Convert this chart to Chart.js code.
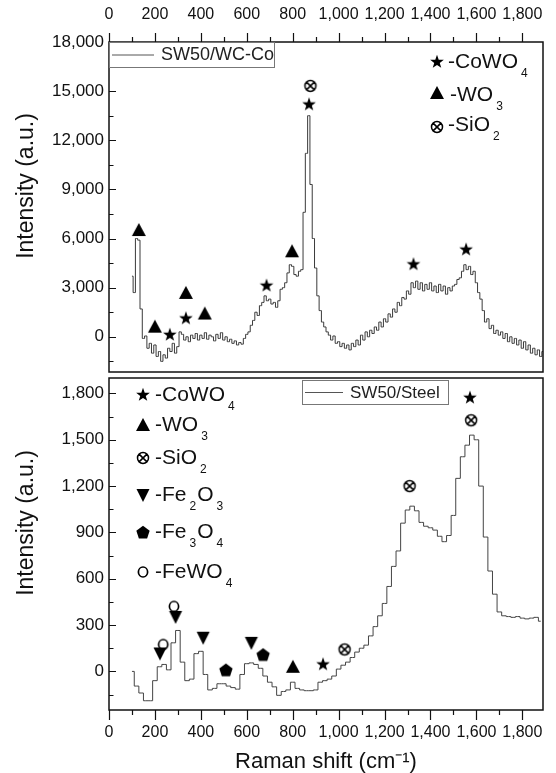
<!DOCTYPE html>
<html>
<head>
<meta charset="utf-8">
<script src="https://cdn.jsdelivr.net/npm/chart.js@4.4.0/dist/chart.umd.min.js"></script>
<style>
  body { margin: 0; background: #fff; width: 556px; height: 773px; overflow: hidden; position: relative; }
  canvas { position: absolute; left: 0; }
  #topChart { top: 0; }
  #bottomChart { top: 370px; }
</style>
</head>
<body>
<canvas id="topChart" width="556" height="379"></canvas>
<canvas id="bottomChart" width="556" height="403"></canvas>
<script>
// Raman shift grid: top spectrum sampled every 10 cm-1, bottom every 20 cm-1
const topStart = 100, topStep = 10;
const bottomStart = 100, bottomStep = 20;

// SW50/WC-Co intensity, 100 ... 1890 cm-1
const topIntensity = [
  3700, 2700, 6000, 5900, 1700, -100, 50, -700, -400, -1000,
  -500, -1200, -900, -1500, -1100, -1300, -700, -900, -400, -1000,
  -600, 300, 150, -200, 0, -300, 100, -100, 200, -200,
  100, -100, 250, -150, 100, 0, -250, 150, -100, 250,
  -200, 0, -300, -150, -400, -250, -500, -350, -450, -100,
  150, 300, 700, 1000, 1500, 1300, 1900, 2100, 2500, 2200,
  2300, 2000, 2100, 1800, 2200, 2900, 3000, 3300, 3900, 4400,
  4300, 3800, 3700, 4000, 4100, 7600, 11200, 13500, 9300, 6000,
  4200, 2500, 1600, 900, 600, 300, 100, -200, 50, -400,
  -300, -600, -400, -700, -500, -800, -400, -600, -200, -500,
  100, -200, 300, 0, 400, 200, 600, 400, 900, 600,
  1100, 900, 1400, 1200, 1700, 1500, 2100, 1900, 2400, 2300,
  2800, 2600, 3300, 3000, 3400, 2900, 3300, 2800, 3200, 2900,
  3300, 2800, 3100, 2700, 3200, 2800, 3100, 2600, 3000, 2800,
  3100, 3200, 3500, 3600, 4000, 4400, 4100, 4300, 3800, 4000,
  3300, 2700, 2300, 1600, 900, 1100, 500, 700, 200, 400,
  100, 300, -100, 200, -300, 0, -400, -100, -500, -200,
  -700, -300, -800, -500, -1000, -700, -1100, -800, -1200, -900
];

// SW50/Steel intensity, 100 ... 1880 cm-1
const bottomIntensity = [
  0, -95, -140, -190, -190, -60, 30, 45, 10, 185,
  265, 60, -60, -50, 115, 130, -20, -120, -110, -80,
  -80, -95, -105, -115, -20, 50, 55, 45, 20, -30,
  -70, -100, -155, -130, -120, -70, -110, -120, -125, -125,
  -120, -70, -60, -50, -30, 15, 40, 60, 90, 125,
  150, 170, 230, 290, 360, 440, 550, 680, 780, 960,
  1045, 1070, 1040, 965, 940, 930, 915, 875, 840, 880,
  1010, 1250, 1390, 1465, 1530, 1500, 1200, 870, 650, 500,
  385, 360, 355, 350, 355, 345, 340, 345, 350, 325
];

// peak markers, top panel
const topCoWO4X = [265, 335, 686, 871, 1326, 1555];
const topCoWO4Y = [120, 1120, 3120, 14180, 4420, 5320];
const topWO3X = [130, 200, 335, 417, 797];
const topWO3Y = [6520, 620, 2680, 1420, 5220];
const topSiO2X = [877];
const topSiO2Y = [15320];

// peak markers, bottom panel
const botCoWO4X = [932, 1572];
const botCoWO4Y = [45, 1772];
const botWO3X = [801];
const botWO3Y = [30];
const botSiO2X = [1026, 1309, 1577];
const botSiO2Y = [142, 1200, 1626];
const botFe2O3X = [222, 290, 410, 620];
const botFe2O3Y = [116, 353, 218, 185];
const botFe3O4X = [509, 671];
const botFe3O4Y = [11, 110];
const botFeWO4X = [236, 283];
const botFeWO4Y = [174, 421];

// axis ranges and tick labels
const xRange = [0, 1890];
const xTickValues = [0, 200, 400, 600, 800, 1000, 1200, 1400, 1600, 1800];
const topYRange = [-2150, 18000];
const topYTickValues = [0, 3000, 6000, 9000, 12000, 15000, 18000];
const bottomYRange = [-250, 1900];
const bottomYTickValues = [0, 300, 600, 900, 1200, 1500, 1800];

const FONT = '"Liberation Sans", Arial, sans-serif';
Chart.defaults.font.family = FONT;
Chart.defaults.font.size = 16;
Chart.defaults.color = '#111';

function makeMarker(kind) {
  const c = document.createElement('canvas');
  c.width = 18;
  c.height = 18;
  const g = c.getContext('2d');
  g.translate(9, 9);
  g.fillStyle = '#000';
  g.strokeStyle = '#000';
  g.beginPath();
  if (kind === 'star') {
    for (let i = 0; i < 10; i++) {
      const r = i % 2 ? 2.9 : 7.2;
      const ang = -Math.PI / 2 + i * Math.PI / 5;
      g.lineTo(r * Math.cos(ang), r * Math.sin(ang));
    }
    g.closePath();
    g.fill();
  } else if (kind === 'up') {
    g.moveTo(0, -7);
    g.lineTo(7, 6);
    g.lineTo(-7, 6);
    g.closePath();
    g.fill();
  } else if (kind === 'down') {
    g.moveTo(0, 7);
    g.lineTo(6.5, -6);
    g.lineTo(-6.5, -6);
    g.closePath();
    g.fill();
  } else if (kind === 'pentagon') {
    for (let i = 0; i < 5; i++) {
      const ang = -Math.PI / 2 + i * 2 * Math.PI / 5;
      g.lineTo(7 * Math.cos(ang), 7 * Math.sin(ang) + 0.8);
    }
    g.closePath();
    g.fill();
  } else if (kind === 'otimes') {
    g.lineWidth = 1.5;
    g.arc(0, 0, 5.5, 0, Math.PI * 2);
    g.moveTo(-3.9, -3.9);
    g.lineTo(3.9, 3.9);
    g.moveTo(3.9, -3.9);
    g.lineTo(-3.9, 3.9);
    g.stroke();
  } else if (kind === 'o') {
    g.lineWidth = 1.7;
    g.ellipse(0, 0, 4.6, 5, 0, 0, Math.PI * 2);
    g.stroke();
  }
  return c;
}

const markers = {
  star: makeMarker('star'),
  up: makeMarker('up'),
  down: makeMarker('down'),
  pentagon: makeMarker('pentagon'),
  otimes: makeMarker('otimes'),
  o: makeMarker('o')
};

function spectrum(values, start, step) {
  return values.map((v, i) => ({ x: start + i * step, y: v }));
}

function points(xs, ys) {
  return xs.map((x, i) => ({ x: x, y: ys[i] }));
}

function markerSet(label, xs, ys, img) {
  return {
    label: label,
    data: points(xs, ys),
    showLine: false,
    pointStyle: img,
    pointRadius: 6,
    pointHoverRadius: 6
  };
}

function fmt(v) {
  return Number(v).toLocaleString('en-US');
}

// major ticks at the labelled values, a minor one half way between; x outward, y inward
function drawTicks(ctx, scale, values, a, where) {
  const half = (values[1] - values[0]) / 2;
  const all = [];
  values.forEach(v => { all.push([v, true]); all.push([v - half, false]); all.push([v + half, false]); });
  ctx.beginPath();
  all.forEach(([v, major]) => {
    if (v < scale.min || v > scale.max) return;
    const p = Math.round(scale.getPixelForValue(v)) + 0.5;
    if (where === 'top') {
      ctx.moveTo(p, a.top);
      ctx.lineTo(p, a.top - (major ? 9 : 5));
    } else if (where === 'bottom') {
      ctx.moveTo(p, a.bottom);
      ctx.lineTo(p, a.bottom + (major ? 10 : 5));
    } else {
      ctx.moveTo(a.left, p);
      ctx.lineTo(a.left + (major ? 7 : 4.5), p);
    }
  });
  ctx.stroke();
}

function richText(ctx, x, y, parts) {
  let cx = x;
  ctx.textAlign = 'left';
  ctx.textBaseline = 'middle';
  for (const p of parts) {
    if (p[0] === '_') {
      ctx.font = '12px ' + FONT;
      ctx.fillText(p.slice(1), cx + 3, y + 12);
      cx += ctx.measureText(p.slice(1)).width + 4;
    } else {
      ctx.font = '21px ' + FONT;
      ctx.fillText(p, cx, y);
      cx += ctx.measureText(p).width;
    }
  }
}

function drawSymbolLegend(ctx, x, y, rows) {
  rows.forEach(r => {
    const img = markers[r.marker];
    ctx.drawImage(img, x - img.width / 2, r.y + y - img.height / 2);
    richText(ctx, x + r.dx, r.y + y + (r.ty || 0), r.parts);
  });
}

function seriesBox(ctx, x, y, w, h, name, lineLen, fontSize) {
  ctx.strokeStyle = '#777';
  ctx.lineWidth = 1;
  ctx.strokeRect(x + 0.5, y + 0.5, w, h);
  ctx.strokeStyle = '#555';
  ctx.beginPath();
  ctx.moveTo(x + 3, y + h / 2 + 0.5);
  ctx.lineTo(x + 3 + lineLen, y + h / 2 + 0.5);
  ctx.stroke();
  ctx.fillStyle = '#222';
  ctx.font = fontSize + 'px ' + FONT;
  ctx.textAlign = 'left';
  ctx.textBaseline = 'middle';
  ctx.fillText(name, x + lineLen + 10, y + h / 2 + 1);
}

function yTitle(ctx, a) {
  ctx.save();
  ctx.translate(27, (a.top + a.bottom) / 2 - 21);
  ctx.rotate(-Math.PI / 2);
  ctx.font = '23px ' + FONT;
  ctx.fillStyle = '#111';
  ctx.textAlign = 'center';
  ctx.textBaseline = 'middle';
  ctx.fillText('Intensity (a.u.)', 0, 0);
  ctx.restore();
}

const topDecor = {
  id: 'topDecor',
  afterDatasetsDraw(chart) {
    const { ctx, chartArea: a, scales } = chart;
    ctx.save();
    ctx.strokeStyle = '#111';
    ctx.lineWidth = 1.5;
    ctx.strokeRect(a.left, a.top, a.right - a.left, a.bottom - a.top);
    ctx.lineWidth = 1.2;
    drawTicks(ctx, scales.x, xTickValues, a, 'top');
    drawTicks(ctx, scales.y, topYTickValues, a, 'left');
    seriesBox(ctx, a.left, a.top, 165, 25, 'SW50/WC-Co', 42, 18);
    ctx.fillStyle = '#111';
    drawSymbolLegend(ctx, a.left + 328, a.top, [
      { marker: 'star', y: 20, dx: 11, parts: ['-CoWO', '_4'] },
      { marker: 'up', y: 51, dx: 13, ty: 2, parts: ['-WO', '_3'] },
      { marker: 'otimes', y: 85, dx: 11, ty: -2, parts: ['-SiO', '_2'] }
    ]);
    yTitle(ctx, a);
    ctx.restore();
  }
};

const bottomDecor = {
  id: 'bottomDecor',
  afterDatasetsDraw(chart) {
    const { ctx, chartArea: a, scales } = chart;
    ctx.save();
    ctx.strokeStyle = '#111';
    ctx.lineWidth = 1.5;
    ctx.strokeRect(a.left, a.top, a.right - a.left, a.bottom - a.top);
    ctx.lineWidth = 1.2;
    drawTicks(ctx, scales.x, xTickValues, a, 'bottom');
    drawTicks(ctx, scales.y, bottomYTickValues, a, 'left');
    seriesBox(ctx, a.left + 193, a.top + 2, 146, 24, 'SW50/Steel', 38, 17);
    ctx.fillStyle = '#111';
    drawSymbolLegend(ctx, a.left + 34, a.top, [
      { marker: 'star', y: 17, dx: 12, parts: ['-CoWO', '_4'] },
      { marker: 'up', y: 47, dx: 12, parts: ['-WO', '_3'] },
      { marker: 'otimes', y: 80, dx: 12, parts: ['-SiO', '_2'] },
      { marker: 'down', y: 117, dx: 12, parts: ['-Fe', '_2', 'O', '_3'] },
      { marker: 'pentagon', y: 154, dx: 12, parts: ['-Fe', '_3', 'O', '_4'] },
      { marker: 'o', y: 194, dx: 12, parts: ['-FeWO', '_4'] }
    ]);
    yTitle(ctx, a);
    ctx.restore();
  }
};

function fixedTicks(values) {
  return s => { s.ticks = values.map(v => ({ value: v })); };
}

function xScale(position, padding, title) {
  return {
    type: 'linear',
    position: position,
    min: xRange[0],
    max: xRange[1],
    bounds: 'data',
    grid: { display: false, drawTicks: false },
    border: { display: false },
    ticks: {
      autoSkip: false,
      maxRotation: 0,
      padding: padding,
      font: { size: 16 },
      callback: v => fmt(v)
    },
    title: title,
    afterBuildTicks: fixedTicks(xTickValues),
    afterFit: s => {
      s.height = position === 'top' ? 42 : 63;
      s.paddingLeft = 0;
      s.paddingRight = 0;
    }
  };
}

function yScale(range, values) {
  return {
    type: 'linear',
    min: range[0],
    max: range[1],
    bounds: 'data',
    grid: { display: false, drawTicks: false },
    border: { display: false },
    ticks: {
      autoSkip: false,
      padding: 5,
      font: { size: 17 },
      callback: v => fmt(v)
    },
    afterBuildTicks: fixedTicks(values),
    afterFit: s => {
      s.width = 109;
      s.paddingTop = 0;
      s.paddingBottom = 0;
    }
  };
}

const common = {
  responsive: false,
  animation: false,
  events: [],
  plugins: { legend: { display: false }, tooltip: { enabled: false } }
};

new Chart(document.getElementById('topChart'), {
  type: 'line',
  data: {
    datasets: [
      {
        label: 'SW50/WC-Co',
        data: spectrum(topIntensity, topStart, topStep),
        borderColor: '#3a3a3a',
        borderWidth: 1,
        pointRadius: 0,
        stepped: 'middle'
      },
      markerSet('CoWO4', topCoWO4X, topCoWO4Y, markers.star),
      markerSet('WO3', topWO3X, topWO3Y, markers.up),
      markerSet('SiO2', topSiO2X, topSiO2Y, markers.otimes)
    ]
  },
  options: Object.assign({}, common, {
    layout: { padding: { left: 0, right: 13, top: 0, bottom: 1 } },
    scales: {
      x: xScale('top', 18, { display: false }),
      y: yScale(topYRange, topYTickValues)
    }
  }),
  plugins: [topDecor]
});

new Chart(document.getElementById('bottomChart'), {
  type: 'line',
  data: {
    datasets: [
      {
        label: 'SW50/Steel',
        data: spectrum(bottomIntensity, bottomStart, bottomStep),
        borderColor: '#444',
        borderWidth: 1,
        pointRadius: 0,
        stepped: 'middle'
      },
      markerSet('CoWO4', botCoWO4X, botCoWO4Y, markers.star),
      markerSet('WO3', botWO3X, botWO3Y, markers.up),
      markerSet('SiO2', botSiO2X, botSiO2Y, markers.otimes),
      markerSet('Fe2O3', botFe2O3X, botFe2O3Y, markers.down),
      markerSet('Fe3O4', botFe3O4X, botFe3O4Y, markers.pentagon),
      markerSet('FeWO4', botFeWO4X, botFeWO4Y, markers.o)
    ]
  },
  options: Object.assign({}, common, {
    layout: { padding: { left: 0, right: 13, top: 8, bottom: 0 } },
    scales: {
      x: xScale('bottom', 13, {
        display: true,
        text: 'Raman shift (cm\u207B\u00B9)',
        font: { size: 22, lineHeight: 1 },
        padding: 0,
        color: '#111'
      }),
      y: yScale(bottomYRange, bottomYTickValues)
    }
  }),
  plugins: [bottomDecor]
});
</script>
</body>
</html>
